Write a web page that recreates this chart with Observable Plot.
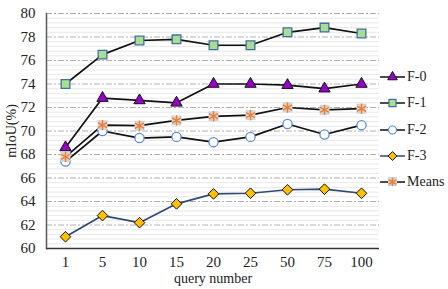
<!DOCTYPE html>
<html><head><meta charset="utf-8">
<script src="https://cdn.jsdelivr.net/npm/d3@7"></script>
<script src="https://cdn.jsdelivr.net/npm/@observablehq/plot@0.6"></script>
<style>
html,body{margin:0;padding:0;background:#fff;}
#wrap{position:relative;width:448px;height:289px;font-family:"Liberation Serif","Times New Roman",serif;}
#legend{position:absolute;left:380px;top:64px;font-size:14px;color:#222;}
.li{display:flex;align-items:center;height:26.3px;}
.li svg{margin-right:2px;}
</style></head>
<body><div id="wrap"><div id="chart"></div><div id="legend"></div></div>
<script>
const queries = ["1","5","10","15","20","25","50","75","100"];
const f0 = [68.6, 72.8, 72.6, 72.4, 74.0, 74.0, 73.9, 73.6, 74.0];
const f1 = [74.0, 76.5, 77.7, 77.8, 77.3, 77.3, 78.4, 78.8, 78.3];
const f2 = [67.4, 70.0, 69.4, 69.5, 69.05, 69.5, 70.6, 69.7, 70.5];
const f3 = [61.0, 62.8, 62.2, 63.8, 64.65, 64.7, 65.0, 65.05, 64.7];
const means = [67.8, 70.5, 70.45, 70.9, 71.25, 71.35, 72.0, 71.8, 71.9];
const yTicks = [60, 62, 64, 66, 68, 70, 72, 74, 76, 78, 80];
const seriesNames = ["F-0", "F-1", "F-2", "F-3", "Means"];

const rows = (vals) => queries.map((q, i) => ({q, v: vals[i]}));
const d0 = rows(f0), d1 = rows(f1), d2 = rows(f2), d3r = rows(f3), dm = rows(means);
const minor = d3.range(60, 80.001, 0.4).filter(v => !yTicks.some(t => Math.abs(t - v) < 1e-6));

const chart = Plot.plot({
  width: 448, height: 289,
  marginLeft: 46, marginRight: 69, marginTop: 13, marginBottom: 41,
  style: {fontFamily: '"Liberation Serif","Times New Roman",serif', fontSize: "14px", color: "#222", background: "#fff"},
  x: {type: "point", domain: queries, padding: 0.5},
  y: {domain: [60, 80]},
  marks: [
    Plot.ruleY(minor, {stroke: "#e8e8e8", strokeWidth: 1}),
    Plot.ruleY(yTicks.slice(1), {stroke: "#b0b0b0", strokeWidth: 1, strokeDasharray: "6,2,2,2"}),
    Plot.axisX({tickSize: 0, tickPadding: 8, fontSize: 15, label: null}),
    Plot.axisX({ticks: [], label: "query number", labelAnchor: "center", labelArrow: "none", labelOffset: 34, fontSize: 14}),
    Plot.axisY({ticks: yTicks, tickSize: 0, tickPadding: 11, fontSize: 15, label: null}),
    Plot.axisY({ticks: [], label: "mIoU(%)", labelAnchor: "center", labelArrow: "none", labelOffset: 40, fontSize: 14}),
    Plot.frame({anchor: "left", stroke: "#5a5a5a", strokeWidth: 1.5}),
    Plot.ruleY([60], {stroke: "#333", strokeWidth: 1.5}),
    Plot.line(d3r, {x: "q", y: "v", stroke: "#2f4a7a", strokeWidth: 1.7}),
    Plot.line(d2, {x: "q", y: "v", stroke: "#111", strokeWidth: 1.7}),
    Plot.line(dm, {x: "q", y: "v", stroke: "#111", strokeWidth: 1.7}),
    Plot.line(d0, {x: "q", y: "v", stroke: "#111", strokeWidth: 1.7}),
    Plot.line(d1, {x: "q", y: "v", stroke: "#111", strokeWidth: 1.7}),
    Plot.dot(d3r, {x: "q", y: "v", symbol: d3.symbolDiamond2, r: 4.8, fill: "#ffc000", stroke: "#111", strokeWidth: 1}),
    Plot.dot(d2, {x: "q", y: "v", symbol: "circle", r: 4.6, fill: "#fff", stroke: "#5b8bd9", strokeWidth: 1.3}),
    Plot.dot(dm, {x: "q", y: "v", symbol: "square", r: 5.6, fill: "#d3d3d3", stroke: "none"}),
    Plot.dot(dm, {x: "q", y: "v", symbol: "asterisk", r: 4.9, stroke: "#ed7d31", strokeWidth: 1.4}),
    Plot.dot(d0, {x: "q", y: "v", symbol: "triangle", r: 4.2, fill: "#9900cc", stroke: "#111", strokeWidth: 1}),
    Plot.dot(d1, {x: "q", y: "v", symbol: "square", r: 4.9, fill: "#a9dc94", stroke: "#41719c", strokeWidth: 1.3})
  ]
});
document.getElementById("chart").appendChild(chart);

// legend
const swatchDefs = {
  "F-0": {line: "#111", sym: d3.symbolTriangle, size: 40, fill: "#9900cc", stroke: "#111", sw: 1},
  "F-1": {line: "#111", sym: d3.symbolSquare, size: 50, fill: "#a9dc94", stroke: "#41719c", sw: 1.2},
  "F-2": {line: "#111", sym: d3.symbolCircle, size: 50, fill: "#fff", stroke: "#5b8bd9", sw: 1.2},
  "F-3": {line: "#2f4a7a", sym: d3.symbolDiamond2, size: 50, fill: "#ffc000", stroke: "#111", sw: 1},
  "Means": {line: "#111", sym: d3.symbolAsterisk, size: 50, fill: "none", stroke: "#ed7d31", sw: 1.4, bg: true}
};
const leg = d3.select("#legend");
for (const name of seriesNames) {
  const s = swatchDefs[name];
  const item = leg.append("div").attr("class", "li");
  const svg = item.append("svg").attr("width", 25).attr("height", 14);
  svg.append("line").attr("x1", 0).attr("x2", 25).attr("y1", 7).attr("y2", 7).attr("stroke", s.line).attr("stroke-width", 1.5);
  if (s.bg) svg.append("rect").attr("x", 8).attr("y", 2).attr("width", 9).attr("height", 9).attr("fill", "#d3d3d3");
  svg.append("path").attr("transform", "translate(12.5,7)").attr("d", d3.symbol(s.sym, s.size)())
    .attr("fill", s.fill).attr("stroke", s.stroke).attr("stroke-width", s.sw);
  item.append("span").text(name);
}
</script></body></html>
